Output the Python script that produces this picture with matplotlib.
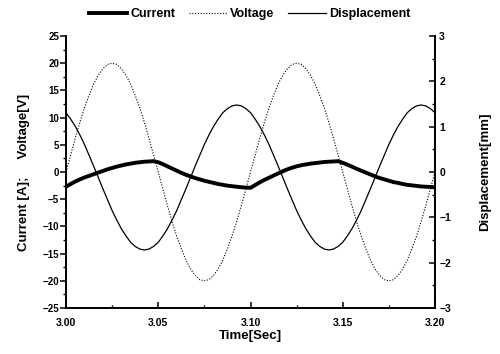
import numpy as np
import matplotlib
matplotlib.use('Agg')
import matplotlib.pyplot as plt
from matplotlib.ticker import MultipleLocator

plt.rcParams['font.family'] = ['Liberation Sans Narrow', 'Liberation Sans', 'DejaVu Sans']
plt.rcParams['font.weight'] = 'bold'

# time samples (s)
time = np.linspace(3.0, 3.2, 81)

# current [A]
current = [-2.7, -2.2, -1.75, -1.35, -1.0, -0.7, -0.4, -0.1, 0.2, 0.5,
           0.75, 1.0, 1.2, 1.4, 1.55, 1.7, 1.8, 1.9, 1.95, 2.0,
           1.8, 1.45, 1.05, 0.65, 0.25, -0.15, -0.5, -0.8, -1.1, -1.35,
           -1.6, -1.8, -2.0, -2.2, -2.35, -2.5, -2.6, -2.7, -2.8, -2.85, -2.9,
           -2.4, -1.9, -1.45, -1.05, -0.65, -0.25, 0.15, 0.5, 0.8,
           1.05, 1.25, 1.4, 1.55, 1.65, 1.75, 1.85, 1.9, 1.95, 2.0,
           1.7, 1.35, 1.0, 0.6, 0.25, -0.1, -0.45, -0.8, -1.1, -1.35,
           -1.6, -1.85, -2.0, -2.2, -2.35, -2.45, -2.55, -2.65, -2.7, -2.75, -2.8]

# voltage [V]
voltage = [0, 3.1, 6.2, 9.1, 11.8, 14.1, 16.2, 17.8, 19.0, 19.8,
           20.0, 19.8, 19.0, 17.8, 16.2, 14.1, 11.8, 9.1, 6.2, 3.1,
           0, -3.1, -6.2, -9.1, -11.8, -14.1, -16.2, -17.8, -19.0, -19.8,
           -20.0, -19.8, -19.0, -17.8, -16.2, -14.1, -11.8, -9.1, -6.2, -3.1,
           0, 3.1, 6.2, 9.1, 11.8, 14.1, 16.2, 17.8, 19.0, 19.8,
           20.0, 19.8, 19.0, 17.8, 16.2, 14.1, 11.8, 9.1, 6.2, 3.1,
           0, -3.1, -6.2, -9.1, -11.8, -14.1, -16.2, -17.8, -19.0, -19.8,
           -20.0, -19.8, -19.0, -17.8, -16.2, -14.1, -11.8, -9.1, -6.2, -3.1, 0]

# displacement [mm] (right axis)
displacement = [1.31, 1.17, 1.01, 0.82, 0.61, 0.37, 0.13, -0.12, -0.37, -0.61,
                -0.85, -1.06, -1.25, -1.41, -1.55, -1.64, -1.70, -1.72, -1.70, -1.64,
                -1.55, -1.41, -1.25, -1.06, -0.85, -0.61, -0.37, -0.12, 0.13, 0.37,
                0.61, 0.82, 1.01, 1.17, 1.31, 1.40, 1.46, 1.48, 1.46, 1.40,
                1.31, 1.17, 1.01, 0.82, 0.61, 0.37, 0.13, -0.12, -0.37, -0.61,
                -0.85, -1.06, -1.25, -1.41, -1.55, -1.64, -1.70, -1.72, -1.70, -1.64,
                -1.55, -1.41, -1.25, -1.06, -0.85, -0.61, -0.37, -0.12, 0.13, 0.37,
                0.61, 0.82, 1.01, 1.17, 1.31, 1.40, 1.46, 1.48, 1.46, 1.40, 1.31]

fig = plt.figure(figsize=(5, 3.54), dpi=100)
ax = fig.add_axes([0.132, 0.130, 0.738, 0.768])
ax2 = ax.twinx()

l1, = ax.plot(time, current, color='black', lw=2.8, label='Current')
l2, = ax.plot(time, voltage, color='black', lw=0.8, ls=(0, (1, 1.5)), label='Voltage')
l3, = ax2.plot(time, displacement, color='black', lw=0.9, label='Displacement')

ax.set_xlim(3.0, 3.2)
ax.set_ylim(-25, 25)
ax2.set_ylim(-3, 3)

ax.xaxis.set_major_locator(MultipleLocator(0.05))
ax.xaxis.set_minor_locator(MultipleLocator(0.025))
ax.yaxis.set_major_locator(MultipleLocator(5))
ax.yaxis.set_minor_locator(MultipleLocator(2.5))
ax2.yaxis.set_major_locator(MultipleLocator(1))
ax2.yaxis.set_minor_locator(MultipleLocator(0.5))
ax.xaxis.set_major_formatter(plt.FormatStrFormatter('%.2f'))

for a in (ax, ax2):
    a.spines['top'].set_visible(False)
    for s in ('left', 'right', 'bottom'):
        a.spines[s].set_linewidth(1.3)

ax.tick_params(axis='y', direction='out', length=4, width=1.1, labelsize=7, pad=1)
ax.tick_params(axis='y', which='minor', direction='out', length=2, width=1)
ax.tick_params(axis='x', direction='in', length=4, width=1.1, labelsize=7.5, pad=7)
ax.tick_params(axis='x', which='minor', direction='in', length=2, width=1)
ax2.tick_params(axis='y', direction='in', length=4, width=1.1, labelsize=7.5, pad=3)
ax2.tick_params(axis='y', which='minor', direction='in', length=2, width=1)

ax.set_xlabel('Time[Sec]', fontsize=9.5, fontweight='bold', labelpad=2)
ax.set_ylabel('Current [A];     Voltage[V]', fontsize=9.5, fontweight='bold', labelpad=9)
ax2.set_ylabel('Displacement[mm]', fontsize=9.5, fontweight='bold', labelpad=20)

fig.legend(handles=[l1, l2, l3], loc='center', bbox_to_anchor=(0.5, 0.96), ncol=3,
           frameon=False, handlelength=3.0, handletextpad=0.3,
           columnspacing=1.1, prop={'weight': 'bold', 'size': 9})

fig.savefig('out.png', dpi=100)
